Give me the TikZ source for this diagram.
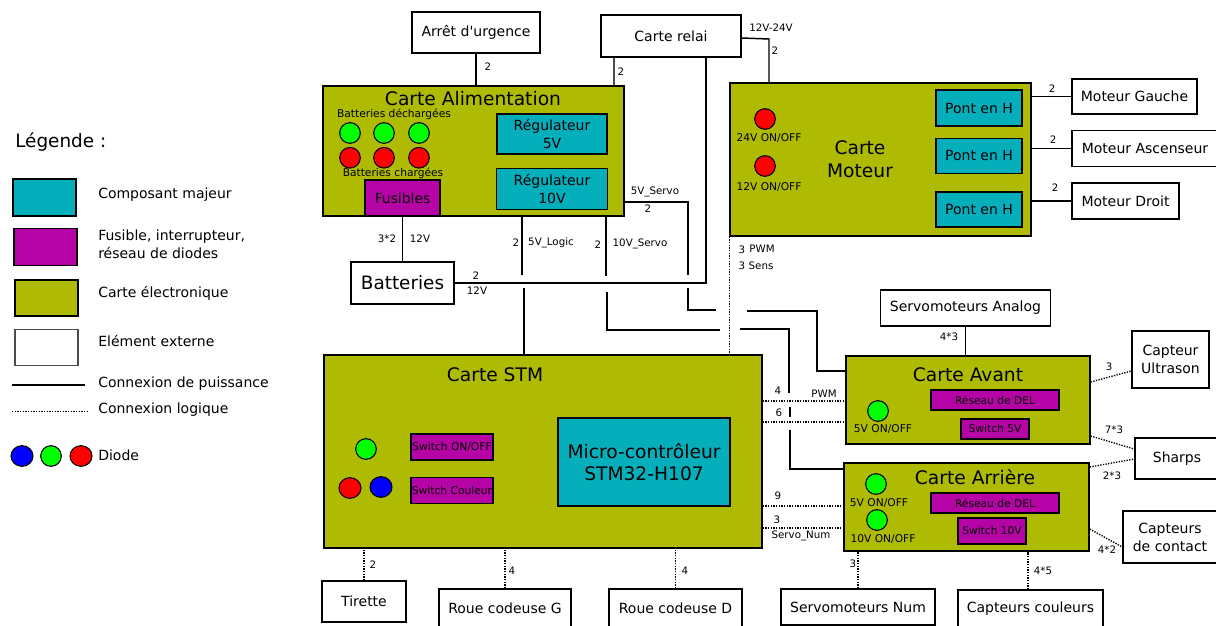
\documentclass[tikz,border=0pt]{standalone}
\usepackage{fontspec}
\setmainfont{DejaVu Sans}
\usetikzlibrary{positioning,shapes.geometric}

\definecolor{cartecol}{HTML}{AFBB03}
\definecolor{compcol}{HTML}{05AEBB}
\definecolor{fusecol}{HTML}{B503A5}

\begin{document}
\begin{tikzpicture}[
    x=0.75pt,y=-0.75pt,
    sz/.style 2 args={minimum width=#1*0.75pt,minimum height=#2*0.75pt},
    block/.style={draw,line width=1.1pt,inner sep=0pt,align=center,font=\fontsize{10.5}{13.5}\selectfont},
    ext/.style={block,fill=white},
    carte/.style={block,fill=cartecol},
    comp/.style={block,fill=compcol},
    fuse/.style={block,fill=fusecol,font=\fontsize{8}{10}\selectfont},
    led/.style={draw,ellipse,line width=0.8pt,inner sep=0pt,minimum width=15.5pt,minimum height=15.5pt},
    title/.style={inner sep=0pt,align=center,font=\fontsize{14}{17}\selectfont},
    power/.style={line width=1.1pt},
    logic/.style={line width=1pt,dash pattern=on 1pt off 1pt},
    lbl/.style={inner sep=0pt,font=\fontsize{7.7}{9}\selectfont},
    ledtxt/.style={inner sep=0pt,font=\fontsize{8}{10}\selectfont},
    legtxt/.style={inner sep=0pt,align=left,anchor=west,font=\fontsize{10.5}{13.5}\selectfont},
]
\useasboundingbox (0,0) rectangle (1216,625);
\clip (0,0) rectangle (1216,625);

% ---- cartes ----
\node[carte,sz={301}{130}] (alim)   at (473.5,151) {};
\node[carte,sz={301}{153}] (moteur) at (880.5,159.5) {};
\node[carte,sz={438}{193}] (stm)    at (543,451.5) {};
\node[carte,sz={244}{88}]  (avant)  at (968,400) {};
\node[carte,sz={245}{88}]  (arr)    at (966.5,507) {};

\node[title] (talim)   at (473,99)   {Carte Alimentation};
\node[title] (tmoteur) at (860,159)  {Carte\\Moteur};
\node[title] (tstm)    at (495,375)  {Carte STM};
\node[title] (tavant)  at (968,375)  {Carte Avant};
\node[title] (tarr)    at (975,477)  {Carte Arrière};

% ---- carte alimentation ----
\node[comp,sz={110}{40}] (reg5)  at (552,134) {Régulateur\\5V};
\node[comp,sz={111}{41},below=13*0.75pt of reg5] (reg10) {Régulateur\\10V};
\node[fuse,sz={75}{36},font=\fontsize{10.4}{12}\selectfont] (fus) at (402.5,198) {Fusibles};
\node[ledtxt] (tdech) at (394,114) {Batteries déchargées};
\node[ledtxt] (tchar) at (393,173) {Batteries chargées};
\foreach \px [count=\i] in {350,384,419} {
  \node[led,fill=green] (gled\i) at (\px,133) {};
  \node[led,fill=red,below=3*0.75pt of gled\i] (rled\i) {};
}

% ---- carte moteur ----
\node[comp,sz={86}{36}] (pont1) at (979,108) {Pont en H};
\node[comp,sz={86}{35},below=11*0.75pt of pont1] (pont2) {Pont en H};
\node[comp,sz={86}{35},below=17*0.75pt of pont2] (pont3) {Pont en H};
\node[led,fill=red] (led24) at (765,119) {};
\node[led,fill=red] (led12) at (765,166) {};
\node[ledtxt] (t24) at (769,138) {24V ON/OFF};
\node[ledtxt] (t12) at (769,187) {12V ON/OFF};

% ---- carte STM ----
\node[comp,sz={172}{88},font=\fontsize{14}{17}\selectfont] (micro) at (644,462) {Micro-contrôleur\\STM32-H107};
\node[fuse,sz={82}{26}] (swon)  at (452,447) {Switch ON/OFF};
\node[fuse,sz={82}{26},below=16*0.75pt of swon] (swcoul) {Switch Couleur};
\node[led,fill=green] (ledg) at (366,449) {};
\node[led,fill=red,minimum width=16.5pt]  (ledr) at (350,488) {};
\node[led,fill=blue,minimum width=16.5pt] (ledb) at (381,487) {};

% ---- carte avant / arriere ----
\node[fuse,sz={128}{20}] (delav) at (995,400) {Réseau de DEL};
\node[fuse,sz={68}{20}]  (sw5)   at (995,429) {Switch 5V};
\node[led,fill=green] (ledav) at (878,411) {};
\node[ledtxt] (tav) at (883,429) {5V ON/OFF};
\node[fuse,sz={128}{20}] (delar) at (995,503) {Réseau de DEL};
\node[fuse,sz={68}{26}]  (sw10)  at (992,531) {Switch 10V};
\node[led,fill=green] (leda1) at (876,484) {};
\node[led,fill=green] (leda2) at (877,520) {};
\node[ledtxt] (ta1) at (879,503) {5V ON/OFF};
\node[ledtxt] (ta2) at (883,539) {10V ON/OFF};

% ---- elements externes ----
\node[ext,sz={128}{41}] (arret) at (476,32.5) {Arrêt d\textquotesingle urgence};
\node[ext,sz={140}{42}] (relai) at (671,36)   {Carte relai};
\node[ext,sz={103}{42},font=\fontsize{13.8}{17}\selectfont] (batt) at (402.5,283) {Batteries};
\node[ext,sz={125}{35}] (mg) at (1134.5,96.5) {Moteur Gauche};
\node[ext,sz={146}{36},below=15*0.75pt of mg.south west,anchor=north west] (ma) {Moteur Ascenseur};
\node[ext,sz={107}{36},below=15*0.75pt of ma.south west,anchor=north west] (md) {Moteur Droit};
\node[ext,sz={170}{36}] (sanalog) at (965.5,308) {Servomoteurs Analog};
\node[ext,sz={77}{57}] (ultra)   at (1170.5,359.5) {Capteur\\Ultrason};
\node[ext,sz={84}{41}] (sharps)  at (1177,458.5) {Sharps};
\node[ext,sz={94}{52}] (contact) at (1170,537) {Capteurs\\de contact};
\node[ext,sz={84}{41}] (tirette) at (364,601.5) {Tirette};
\node[ext,sz={132}{38}] (roueg)  at (505,608) {Roue codeuse G};
\node[ext,sz={133}{38}] (roued)  at (675.5,608) {Roue codeuse D};
\node[ext,sz={154}{36}] (snum)   at (858,607) {Servomoteurs Num};
\node[ext,sz={145}{38}] (coul)   at (1030.5,609) {Capteurs couleurs};

% ---- connexions de puissance ----
\coordinate (cs1) at (688,202);
\coordinate (cs2) at (688,275);
\coordinate (cs3) at (688,288);
\coordinate (cs4) at (716,310);
\coordinate (cs5) at (747,311);
\coordinate (cs6) at (817,371);
\coordinate (cl1) at (522,275);
\coordinate (cl2) at (524,288);
\coordinate (cv1) at (606,276);
\coordinate (cv2) at (607,292);
\coordinate (cv3) at (720,330);
\coordinate (cv4) at (740,329);
\coordinate (cv5) at (789,393);
\coordinate (cv6) at (790,407);
\coordinate (cv7) at (790,417);
\coordinate (cv8) at (790,430);

\draw[power] (arret.south) -- (arret.south |- alim.north);
\draw[power,black!70] (relai.south -| 614,0) coordinate (cr1) -- (cr1 |- alim.north);
\draw[power] (relai.south -| 706,0) coordinate (cr2) -- (cr2 |- batt) -- (batt.east);
\draw[power] (relai.east |- 0,38) coordinate (cr3) -- (769,39) coordinate (cr4) -- (cr4 |- moteur.north);
\draw[power] (fus.south) -- (batt.north);
\draw[power] (alim.south -| cl1) -- (cl1);
\draw[power] (cl2) -- (cl2 |- stm.north);
\draw[power] (alim.south -| cv1) -- (cv1);
\draw[power] (cv2) |- (cv3);
\draw[power] (cv4) -| (cv5);
\draw[power] (cv6) -- (cv7);
\draw[power] (cv8) |- (arr.west |- 0,469);
\draw[power] (alim.east |- cs1) -- (cs1) -- (cs2);
\draw[power] (cs3) |- (cs4);
\draw[power] (cs5) -| (cs6) |- (avant.west |- 0,371);
\draw[power] (sanalog.south) -- (sanalog.south |- avant.north);
\draw[power] (moteur.east |- mg) -- (mg.west);
\draw[power] (moteur.east |- ma) -- (ma.west);
\draw[power] (moteur.east |- md) -- (md.west);

% ---- connexions logiques ----
\draw[logic] (moteur.south west) -- (moteur.south west |- stm.north);
\draw[logic] (stm.east |- 0,401) -- (avant.west |- 0,401);
\draw[logic] (stm.east |- 0,422) -- (avant.west |- 0,422);
\draw[logic] (stm.east |- 0,506) -- (arr.west |- 0,506);
\draw[logic] (stm.east |- 0,528) -- (arr.west |- 0,528);
\draw[logic] (tirette.north) -- (tirette.north |- stm.south);
\draw[logic] (roueg.north) -- (roueg.north |- stm.south);
\draw[logic] (roued.north) -- (roued.north |- stm.south);
\draw[logic] (snum.north) -- (snum.north |- arr.south);
\draw[logic] (coul.north -| 1028,0) coordinate (cc1) -- (cc1 |- arr.south);
\draw[logic] (avant.east |- 0,382) -- (ultra.west |- 0,371);
\draw[logic] (avant.east |- 0,436) -- (sharps.west |- 0,449);
\draw[logic] (arr.east |- 0,467) -- (sharps.west |- 0,459);
\draw[logic] (arr.east |- 0,529) -- (contact.west |- 0,547);

% ---- etiquettes des fils ----
\foreach \pos/\txt [count=\i] in {
    {488,67}/2, {621,72}/2, {387,239}/3*2, {420,239}/12V, {476,276}/2, {477,291}/12V,
    {516,243}/2, {551,243}/5V\_Logic, {598,245}/2, {640,244}/10V\_Servo,
    {655,192}/5V\_Servo, {648,209}/2, {771,28}/12V-24V, {775,51}/2,
    {1052,89}/2, {1053,140}/2, {1055,188}/2, {742,250}/3, {762,249}/PWM, {742,266}/3, {761,266}/Sens,
    {949,337}/4*3, {778,391}/4, {824,394}/PWM, {779,413}/6, {778,496}/9, {777,520}/3, {801,536}/Servo\_Num,
    {1109,367}/3, {1114,430}/7*3, {1112,476}/2*3, {1107,550}/4*2, {853,564}/3, {1043,571}/4*5,
    {373,565}/2, {512,571}/4, {685,571}/4} {
  \node[lbl] (w\i) at (\pos) {\txt};
}

% ---- legende ----
\node[legtxt,font=\fontsize{13.8}{16}\selectfont] (leg) at (15,142) {Légende :};
\node[comp,sz={63}{37}] (scomp) at (44.5,197.5) {};
\node[fuse,sz={63}{37},below=11*0.75pt of scomp,xshift=0.75pt] (sfuse) {};
\node[carte,sz={63}{36},below=13*0.75pt of sfuse,xshift=0.75pt] (scarte) {};
\node[ext,sz={63}{36},below=12*0.75pt of scarte,draw=black!70] (sext) {};
\node[legtxt] (tcomp)  at (98,195)  {Composant majeur};
\node[legtxt] (tfuse)  at (98,244)  {Fusible, interrupteur,\\réseau de diodes};
\node[legtxt] (tcarte) at (98,293)  {Carte électronique};
\node[legtxt] (text)   at (98,341)  {Elément externe};
\node[legtxt] (tpow)   at (98,384)  {Connexion de puissance};
\node[legtxt] (tlog)   at (98,410)  {Connexion logique};
\node[legtxt] (tdio)   at (98,455)  {Diode};
\coordinate (lp) at (12,385);
\coordinate (ll) at (12,411);
\draw[power] (lp) -- (lp -| 85,0);
\draw[logic,line width=0.7pt] (ll) -- (ll -| 87,0);
\node[led,fill=blue,minimum width=16.5pt] (dblue) at (22,456) {};
\node[led,fill=green] (dgreen) at (51,456) {};
\node[led,fill=red,minimum width=16.5pt] (dred) at (81,456) {};
\end{tikzpicture}
\end{document}
